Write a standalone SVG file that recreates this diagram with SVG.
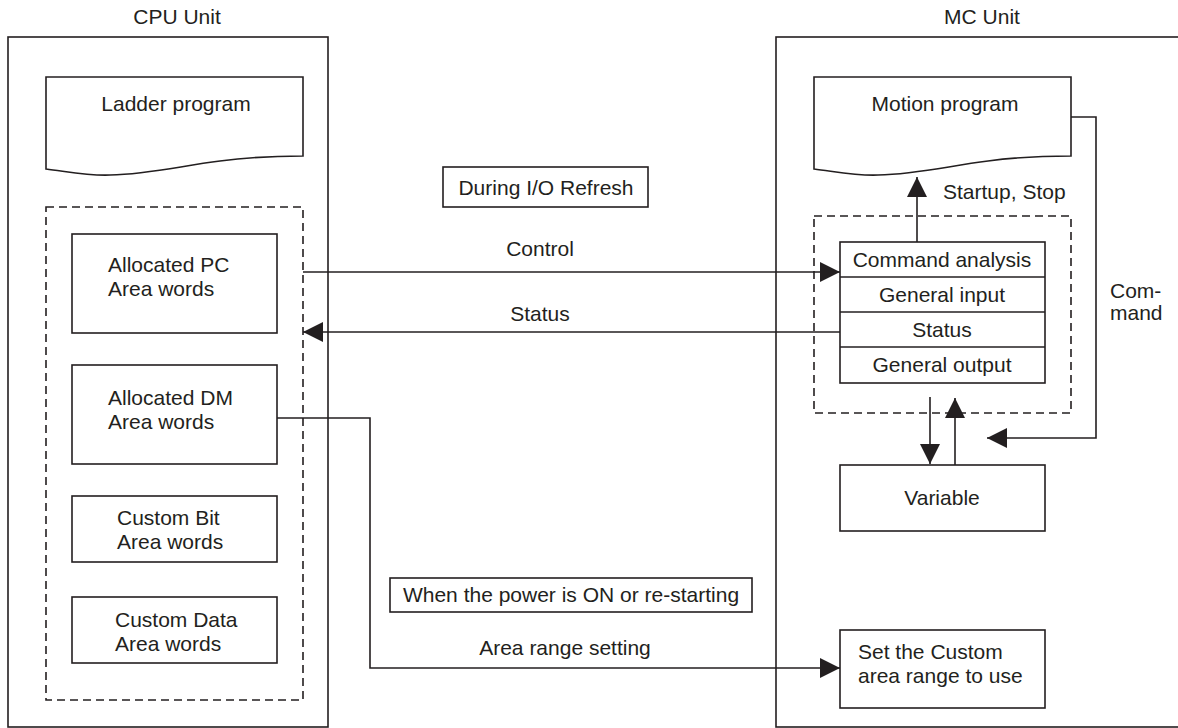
<svg xmlns="http://www.w3.org/2000/svg" width="1178" height="728" viewBox="0 0 1178 728">
<style>
  .ln{fill:none;stroke:#231f20;stroke-width:1.6}
  .bx{fill:#fff;stroke:#231f20;stroke-width:1.6}
  .ds{fill:none;stroke:#231f20;stroke-width:1.6;stroke-dasharray:8,5}
  text{font-family:"Liberation Sans",Arial,sans-serif;font-size:21px;fill:#231f20}
  .c{text-anchor:middle}
</style>
<defs>
  <marker id="ah" markerUnits="userSpaceOnUse" markerWidth="20" markerHeight="20" refX="20" refY="10" orient="auto">
    <path d="M0,0 L20,10 L0,20 Z" fill="#231f20"/>
  </marker>
</defs>
<rect width="1178" height="728" fill="#fff"/>

<g id="cpu-unit">
  <text x="177" y="24" class="c">CPU Unit</text>
  <rect x="8" y="37" width="320" height="690" class="bx"/>
</g>
<g id="mc-unit">
  <text x="982" y="24" class="c">MC Unit</text>
  <rect x="776" y="37" width="430" height="690" class="bx"/>
</g>

<g id="ladder-program">
  <path d="M46,77 H303 V156 C280,156 250,157 220,161 C180,166 150,174 110,175 C90,176 70,172 46,169 Z" class="bx"/>
  <text x="176" y="111" class="c">Ladder program</text>
</g>
<g id="cpu-area">
  <rect x="46" y="207" width="257" height="493" class="ds"/>
</g>
<g id="allocated-pc">
  <rect x="72" y="234" width="205" height="99" class="bx"/>
  <text x="108" y="272">Allocated PC</text>
  <text x="108" y="296">Area words</text>
</g>
<g id="allocated-dm">
  <rect x="72" y="365" width="205" height="99" class="bx"/>
  <text x="108" y="405">Allocated DM</text>
  <text x="108" y="429">Area words</text>
</g>
<g id="custom-bit">
  <rect x="72" y="496" width="205" height="66" class="bx"/>
  <text x="117" y="525">Custom Bit</text>
  <text x="117" y="549">Area words</text>
</g>
<g id="custom-data">
  <rect x="72" y="597" width="205" height="66" class="bx"/>
  <text x="115" y="627">Custom Data</text>
  <text x="115" y="651">Area words</text>
</g>

<g id="during-io-refresh">
  <rect x="443" y="167" width="205" height="40" class="bx"/>
  <text x="546" y="195" class="c">During I/O Refresh</text>
</g>
<g id="power-on">
  <rect x="390" y="578" width="362" height="34" class="bx"/>
  <text x="571" y="602" class="c">When the power is ON or re-starting</text>
</g>

<g id="motion-program">
  <path d="M814,77 H1071 V156 C1048,156 1018,157 988,161 C948,166 918,174 878,175 C858,176 838,172 814,169 Z" class="bx"/>
  <text x="945" y="111" class="c">Motion program</text>
</g>
<g id="mc-area">
  <rect x="814" y="216" width="257" height="197" class="ds"/>
</g>
<g id="mc-stack">
  <rect x="840" y="242" width="205" height="141" class="bx"/>
  <line x1="840" y1="277" x2="1045" y2="277" class="ln"/>
  <line x1="840" y1="312" x2="1045" y2="312" class="ln"/>
  <line x1="840" y1="347" x2="1045" y2="347" class="ln"/>
  <text x="942" y="267" class="c">Command analysis</text>
  <text x="942" y="302" class="c">General input</text>
  <text x="942" y="337" class="c">Status</text>
  <text x="942" y="372" class="c">General output</text>
</g>
<g id="variable">
  <rect x="840" y="465" width="205" height="66" class="bx"/>
  <text x="942" y="505" class="c">Variable</text>
</g>
<g id="set-custom">
  <rect x="840" y="630" width="205" height="78" class="bx"/>
  <text x="858" y="659">Set the Custom</text>
  <text x="858" y="683">area range to use</text>
</g>

<g id="connectors">
  <line x1="303" y1="272" x2="840" y2="272" class="ln" marker-end="url(#ah)"/>
  <text x="540" y="256" class="c">Control</text>
  <line x1="840" y1="332" x2="303" y2="332" class="ln" marker-end="url(#ah)"/>
  <text x="540" y="321" class="c">Status</text>
  <line x1="917" y1="242" x2="917" y2="177" class="ln" marker-end="url(#ah)"/>
  <text x="943" y="199">Startup, Stop</text>
  <polyline points="1071,117 1096,117 1096,438 987,438" class="ln" marker-end="url(#ah)"/>
  <text x="1110" y="298">Com-</text>
  <text x="1110" y="320">mand</text>
  <line x1="930" y1="397" x2="930" y2="464" class="ln" marker-end="url(#ah)"/>
  <line x1="955" y1="465" x2="955" y2="398" class="ln" marker-end="url(#ah)"/>
  <polyline points="277,418 370,418 370,668 840,668" class="ln" marker-end="url(#ah)"/>
  <text x="565" y="655" class="c">Area range setting</text>
</g>
</svg>
